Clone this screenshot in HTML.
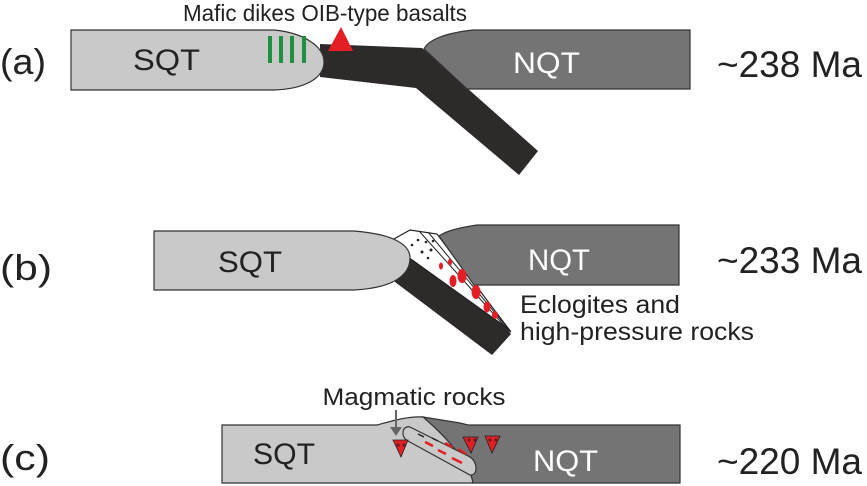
<!DOCTYPE html>
<html><head><meta charset="utf-8"><style>
html,body{margin:0;padding:0;background:#fff;}
svg{display:block;font-family:"Liberation Sans",Arial,sans-serif;}
</style></head><body>
<svg width="867" height="486" viewBox="0 0 867 486" xmlns="http://www.w3.org/2000/svg">
<!-- Panel a -->
<path d="M320,44 L422,48 L538,151 L519,175 L416,88 L320,77 Z" fill="#2e2a2a"/>
<path d="M71,30 L274,30 C305,33 324,47 324,62 C324,78 305,89 274,90 L71,90 Z" fill="#c8c9c8" stroke="#333" stroke-width="1.2"/>
<path d="M690,30 L473,30 C445,33 428,40 424,49 L467,89 L690,89 Z" fill="#747474" stroke="#333" stroke-width="1.2"/>
<g stroke="#1e9140" stroke-width="4"><line x1="270" y1="36" x2="270" y2="63"/><line x1="281" y1="36" x2="281" y2="63"/><line x1="292" y1="36" x2="292" y2="63"/><line x1="304" y1="36" x2="304" y2="63"/></g>
<polygon points="328,51 353,51 341,27" fill="#e31e24"/>
<text x="325" y="21" font-size="23" text-anchor="middle" fill="#222" textLength="284" lengthAdjust="spacingAndGlyphs">Mafic dikes OIB-type basalts</text>
<text x="133" y="70" font-size="30" fill="#222" textLength="67" lengthAdjust="spacingAndGlyphs">SQT</text>
<text x="513" y="73" font-size="30" fill="#fff" textLength="67" lengthAdjust="spacingAndGlyphs">NQT</text>
<text x="0" y="74" font-size="36" fill="#222" textLength="46" lengthAdjust="spacingAndGlyphs">(a)</text>
<text x="717" y="77" font-size="37" fill="#222" textLength="145" lengthAdjust="spacingAndGlyphs">~238 Ma</text>
<!-- Panel b -->
<path d="M397,250 L408,257 L507,328 L511,334 L492,355 L395,282 Z" fill="#2e2a2a"/>
<path d="M392,240 L410,230 L437,234 L511,332 L507,328 L408,257 Z" fill="#fff" stroke="#222" stroke-width="1.2"/>
<path d="M154,231 L354,231 C392,234 410,244 410,258 C410,276 392,288 354,290 L154,290 Z" fill="#c8c9c8" stroke="#333" stroke-width="1.2"/>
<path d="M679,225 L477,225 C458,228 446,231 439,236 L474,285 L679,285 Z" fill="#747474" stroke="#333" stroke-width="1.2"/>
<g stroke="#222" stroke-width="1" fill="none"><path d="M419,231 L508,330"/><path d="M428,232 L510,331"/></g>
<g fill="#222"><circle cx="412" cy="245" r="1.3"/><circle cx="418" cy="240" r="1.3"/><circle cx="422" cy="252" r="1.5"/><circle cx="426" cy="242" r="1.3"/><circle cx="431" cy="250" r="1.5"/><circle cx="433" cy="241" r="1.3"/><circle cx="428" cy="258" r="1.3"/></g>
<g fill="#e31e24"><ellipse cx="441" cy="266" rx="2" ry="3.5"/><ellipse cx="450" cy="262" rx="2" ry="3.5"/><ellipse cx="462" cy="276" rx="4.5" ry="7"/><ellipse cx="453" cy="281" rx="3.5" ry="6"/><ellipse cx="476" cy="292" rx="4.5" ry="7"/><ellipse cx="487" cy="307" rx="3.5" ry="5.5"/><ellipse cx="495" cy="315" rx="3" ry="4"/></g>
<text x="218" y="272" font-size="30" fill="#222" textLength="64" lengthAdjust="spacingAndGlyphs">SQT</text>
<text x="528" y="270" font-size="30" fill="#fff" textLength="62" lengthAdjust="spacingAndGlyphs">NQT</text>
<text x="0" y="280" font-size="36" fill="#222" textLength="52" lengthAdjust="spacingAndGlyphs">(b)</text>
<text x="717" y="273" font-size="37" fill="#222" textLength="145" lengthAdjust="spacingAndGlyphs">~233 Ma</text>
<text x="520" y="313" font-size="25" fill="#222" textLength="160" lengthAdjust="spacingAndGlyphs">Eclogites and</text>
<text x="520" y="340" font-size="25" fill="#222" textLength="234" lengthAdjust="spacingAndGlyphs">high-pressure rocks</text>
<!-- Panel c -->
<path d="M423,417 L460,423 L468,425 L680,425 L680,483 L473,483 C470,465 455,448 423,417 Z" fill="#747474" stroke="#333" stroke-width="1.2"/>
<path d="M222,425 L377,425 C395,420 410,416 423,417 C450,440 470,465 473,483 L222,483 Z" fill="#c8c9c8" stroke="#333" stroke-width="1.2"/>
<path d="M410,427 L470,457 C478,462 478,476 470,475 L408,441 C400,437 402,425 410,427 Z" fill="#c8c9c8" stroke="#333" stroke-width="1.2"/>
<g stroke="#e31e24" stroke-width="2.5"><line x1="425" y1="442" x2="433" y2="446"/><line x1="438" y1="450" x2="446" y2="454"/><line x1="452" y1="458" x2="462" y2="463"/><line x1="445" y1="443" x2="452" y2="447"/><line x1="458" y1="449" x2="466" y2="454"/></g>
<g stroke="#222" stroke-width="1.5"><line x1="418" y1="434" x2="424" y2="437"/><line x1="432" y1="438" x2="438" y2="441"/></g>
<g fill="#e31e24" stroke="#222" stroke-width="0.8"><polygon points="393,440 408,440 401,457"/><polygon points="463,437 478,437 471,453"/><polygon points="485,436 500,436 492,453"/></g>
<g stroke="#222" stroke-width="0.8"><path d="M396,445 h4 M398,443 v4 M402,445 h4 M404,443 v4 M467,440 h4 M469,438 v4 M473,440 h4 M475,438 v4 M488,440 h4 M490,438 v4 M494,440 h4 M496,438 v4"/></g>
<polygon points="390,427 402,427 396,436" fill="#666"/><line x1="396" y1="410" x2="396" y2="428" stroke="#666" stroke-width="2"/>
<text x="414" y="405" font-size="24" text-anchor="middle" fill="#222" textLength="183" lengthAdjust="spacingAndGlyphs">Magmatic rocks</text>
<text x="253" y="464" font-size="30" fill="#222" textLength="62" lengthAdjust="spacingAndGlyphs">SQT</text>
<text x="533" y="471" font-size="30" fill="#fff" textLength="65" lengthAdjust="spacingAndGlyphs">NQT</text>
<text x="0" y="470" font-size="36" fill="#222" textLength="50" lengthAdjust="spacingAndGlyphs">(c)</text>
<text x="717" y="474" font-size="37" fill="#222" textLength="145" lengthAdjust="spacingAndGlyphs">~220 Ma</text>
</svg>
</body></html>
